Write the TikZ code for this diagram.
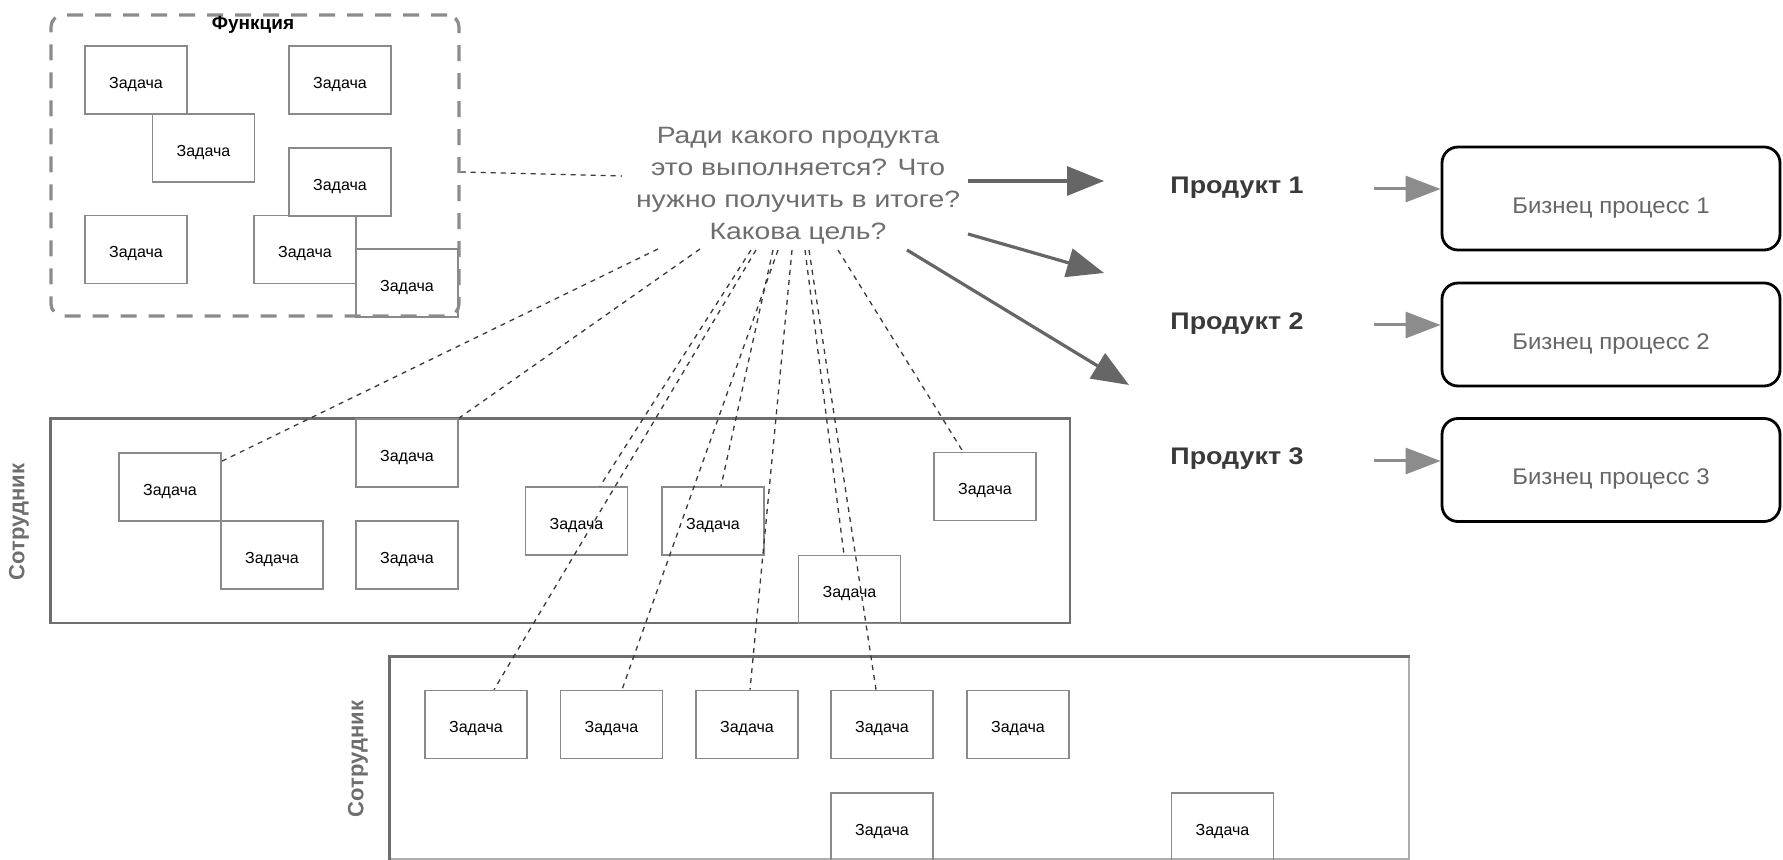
\documentclass[tikz,border=0pt]{standalone}
\usepackage{fontspec}
\setmainfont{Liberation Sans}
\newfontfamily\qfont[FakeStretch=1.2]{Liberation Sans}
\newfontfamily\pfont[FakeStretch=1.12]{Liberation Sans}
\newfontfamily\bpfont[FakeStretch=1.06]{Liberation Sans}
\usetikzlibrary{arrows.meta,calc}
\definecolor{taskgray}{HTML}{8A8A8A}
\definecolor{qgray}{HTML}{6E6E6E}
\definecolor{pgray}{HTML}{3A3A3A}
\definecolor{bpgray}{HTML}{666666}
\definecolor{boxgray}{HTML}{6E6E6E}
\definecolor{dashgray}{HTML}{8C8C8C}
\definecolor{arrowdark}{HTML}{666666}
\definecolor{arrowlight}{HTML}{8C8C8C}
\definecolor{linkgray}{HTML}{3A3A3A}
\begin{document}
\begin{tikzpicture}[x=0.5pt,y=-0.5pt,
  task/.style={draw=taskgray,line width=0.8pt,minimum width=51pt,minimum height=34pt,inner sep=0pt,text height=8.4pt,text depth=0pt,font=\fontsize{8}{9}\selectfont},
  funcbox/.style={draw=dashgray,line width=1.6pt,dash pattern=on 8pt off 6pt,rounded corners=6pt,minimum width=204pt,minimum height=150.5pt,inner sep=0pt},
  lane/.style={draw=boxgray,line width=0.7pt,inner sep=0pt},
  lanelabel/.style={rotate=90,text=boxgray,font=\bfseries\fontsize{11}{13}\selectfont,inner sep=0pt},
  qtext/.style={align=center,text=qgray,font=\qfont\fontsize{11.8}{16}\selectfont,inner sep=0pt},
  prod/.style={text=pgray,font=\pfont\bfseries\fontsize{12}{14}\selectfont,inner sep=0pt},
  bp/.style={draw=black,line width=1.4pt,rounded corners=8pt,minimum width=169pt,minimum height=51.5pt,inner sep=0pt,text height=14.6pt,text depth=0pt,text=bpgray,font=\bpfont\fontsize{11.3}{13}\selectfont},
  bigarrow/.style={draw=arrowdark,line width=1.6pt,-{Triangle[length=18.5pt,width=14.5pt]}},
  smallarrow/.style={draw=arrowlight,line width=1.5pt,-{Triangle[length=17.5pt,width=13pt]}},
  link/.style={draw=linkgray,line width=0.65pt,dash pattern=on 2.5pt off 2.5pt}
]
\clip (0,0) rectangle (1783,860);
\fill[white] (0,0) rectangle (1783,860);

% function container
\node[funcbox] (func) at (255,165.5) {};
\node[font=\bfseries\fontsize{9.5}{11}\selectfont,inner sep=0pt] (ftitle) at (253,25) {Функция};
\node[task] (f1) at (136,80) {Задача};
\node[task] (f2) at (203.5,148) {Задача};
\node[task] (f3) at (340,80) {Задача};
\node[task] (f4) at (340,182) {Задача};
\node[task] (f5) at (136,249.5) {Задача};
\node[task] (f6) at (305,249.5) {Задача};
\node[task] (f7) at (407,283) {Задача};

% employee 1
\node[lane,minimum width=509.5pt,minimum height=102pt] (lane1) at (560.5,521) {};
\draw[draw=boxgray,line width=1.4pt] (lane1.south west) |- (lane1.north east);
\node[lanelabel] (lab1) at (19,522) {Сотрудник};
\node[task] (e1a) at (170,487) {Задача};
\node[task] (e1b) at (272,555) {Задача};
\node[task] (e1c) at (407,453) {Задача};
\node[task] (e1d) at (407,555) {Задача};
\node[task] (e1e) at (576.5,521) {Задача};
\node[task] (e1f) at (713,521) {Задача};
\node[task] (e1g) at (849.5,589.5) {Задача};
\node[task] (e1h) at (985,486.5) {Задача};

% employee 2
\node[lane,draw=taskgray!70,minimum width=509.5pt,minimum height=101pt] (lane2) at (899.5,758) {};
\draw[draw=boxgray,line width=1.4pt] (lane2.south west) |- (lane2.north east);
\node[lanelabel] (lab2) at (358,759) {Сотрудник};
\node[task] (e2a) at (476,724.5) {Задача};
\node[task] (e2b) at (611.5,724.5) {Задача};
\node[task] (e2c) at (747,724.5) {Задача};
\node[task] (e2d) at (882,724.5) {Задача};
\node[task] (e2e) at (1018,724.5) {Задача};
\node[task] (e2f) at (882,827) {Задача};
\node[task] (e2g) at (1222.5,827) {Задача};

% question
\node[qtext] (q) at (798,186) {Ради какого продукта\\это выполняется? Что\\нужно получить в итоге?\\Какова цель?};

% products and processes
\node[prod] (p1) at (1237,188) {Продукт 1};
\node[prod] (p2) at (1237,324) {Продукт 2};
\node[prod] (p3) at (1237,459) {Продукт 3};
\node[bp] (bp1) at (1611,198.5) {Бизнец процесс 1};
\node[bp] (bp2) at (1611,334.5) {Бизнец процесс 2};
\node[bp] (bp3) at (1611,470) {Бизнец процесс 3};

% arrow coordinates
\coordinate (a1s) at (968,181);
\coordinate (a1e) at (1104,181);
\coordinate (a2s) at (968,234);
\coordinate (a2e) at (1104,273);
\coordinate (a3s) at (907,250);
\coordinate (a3e) at (1129,385);
\coordinate (b1s) at (1374,189);
\coordinate (b2s) at (1374,325);
\coordinate (b3s) at (1374,461);
\draw[bigarrow] (a1s) -- (a1e);
\draw[bigarrow] (a2s) -- (a2e);
\draw[bigarrow] (a3s) -- (a3e);
\draw[smallarrow] (b1s) -- ([yshift=4.75pt]bp1.west);
\draw[smallarrow] (b2s) -- ([yshift=4.75pt]bp2.west);
\draw[smallarrow] (b3s) -- ([yshift=4.5pt]bp3.west);

% dashed links
\coordinate (q0) at (622,176);
\coordinate (s1) at (658,249);
\coordinate (s2) at (700,249);
\coordinate (s3) at (751,250);
\coordinate (s4) at (756,250);
\coordinate (s5) at (773,250);
\coordinate (s6) at (778,250);
\coordinate (s7) at (792,250);
\coordinate (s8) at (805,250);
\coordinate (s9) at (809,250);
\coordinate (s10) at (838,250);
\draw[link] ([yshift=-3.25pt]func.east) -- (q0);
\draw[link] (s1) -- ([yshift=-4.5pt]e1a.north east);
\draw[link] (s2) -- (e1c.north east);
\draw[link] (s3) -- ([xshift=11.75pt]e1e.north);
\draw[link] (s4) -- ([xshift=9pt]e2a.north);
\draw[link] (s5) -- ([xshift=4pt]e1f.north);
\draw[link] (s6) -- ([xshift=5.25pt]e2b.north);
\draw[link] (s7) -- ([xshift=1.5pt]e2c.north);
\draw[link] (s8) -- ([xshift=-2.75pt]e1g.north);
\draw[link] (s9) -- ([xshift=-3pt]e2d.north);
\draw[link] (s10) -- ([xshift=-11pt]e1h.north);
\end{tikzpicture}
\end{document}
